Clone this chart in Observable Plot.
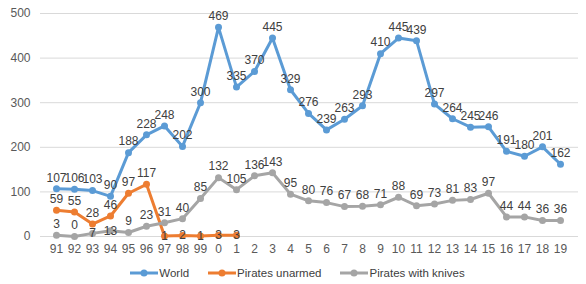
<!DOCTYPE html>
<html><head><meta charset="utf-8">
<script src="https://cdn.jsdelivr.net/npm/d3@7"></script>
<script src="https://cdn.jsdelivr.net/npm/@observablehq/plot@0.6"></script>
<style>
body{margin:0;background:#fff;font-family:"Liberation Sans",Arial,sans-serif;}
#legend{display:flex;justify-content:center;gap:18px;font-size:11.5px;color:#404040;margin-left:8px;height:22px;align-items:center}
#legend span{display:flex;align-items:center}
</style></head><body>
<div id="chart"></div>
<div id="legend"></div>
<script>
const years = ["91","92","93","94","95","96","97","98","99","0","1","2","3","4","5","6","7","8","9","10","11","12","13","14","15","16","17","18","19"];
const world = [107,106,103,90,188,228,248,202,300,469,335,370,445,329,276,239,263,293,410,445,439,297,264,245,246,191,180,201,162];
const unarmed = [59,55,28,46,97,117,1,2,1,3,3];
const knives = [3,0,7,13,9,23,31,40,85,132,105,136,143,95,80,76,67,68,71,88,69,73,81,83,97,44,44,36,36];
const seriesNames = ["World","Pirates unarmed","Pirates with knives"];
const colors = ["#5B9BD5","#ED7D31","#A5A5A5"];
const yTicks = [0,100,200,300,400,500];

const rows = [];
[world, unarmed, knives].forEach((vals, si) => {
  vals.forEach((v, i) => rows.push({series: seriesNames[si], year: years[i], value: v, idx: i}));
});
const lowOrange = d => d.series === "Pirates unarmed" && d.idx >= 6;
const lowGray = d => d.series === "Pirates with knives" && (d.idx === 2 || d.idx === 3);

const chart = Plot.plot({
  width: 586, height: 262,
  marginLeft: 48, marginRight: 19, marginTop: 13, marginBottom: 26,
  style: {fontFamily: "Liberation Sans, Arial, sans-serif", fontSize: "12px", color: "#595959"},
  x: {type: "point", domain: years, padding: 0, label: null, tickSize: 0, tickPadding: 8},
  y: {domain: [0, 500], ticks: yTicks, label: null, tickSize: 0, tickPadding: 18},
  color: {domain: seriesNames, range: colors},
  marks: [
    Plot.ruleY(yTicks, {stroke: "#d9d9d9", strokeWidth: 1, insetLeft: -8, insetRight: -11}),
    Plot.line(rows, {x: "year", y: "value", z: "series", stroke: "series", strokeWidth: 3}),
    Plot.dot(rows, {x: "year", y: "value", fill: "series", r: 3.5, stroke: "none"}),
    Plot.text(rows.filter(d => !lowOrange(d) && !lowGray(d)), {x: "year", y: "value", text: d => String(d.value), dy: -11, fill: "#404040", fontSize: 12}),
    Plot.text(rows.filter(d => lowOrange(d) || lowGray(d)), {x: "year", y: "value", text: d => String(d.value), dy: 0, fill: "#404040", fontSize: 12})
  ]
});
document.getElementById("chart").appendChild(chart);

const lg = document.getElementById("legend");
seriesNames.forEach((n, i) => {
  const s = document.createElement("span");
  s.innerHTML = `<svg width="30" height="10"><line x1="1" x2="29" y1="5" y2="5" stroke="${colors[i]}" stroke-width="3"/><circle cx="15" cy="5" r="3.5" fill="${colors[i]}"/></svg>${n}`;
  lg.appendChild(s);
});
</script></body></html>
